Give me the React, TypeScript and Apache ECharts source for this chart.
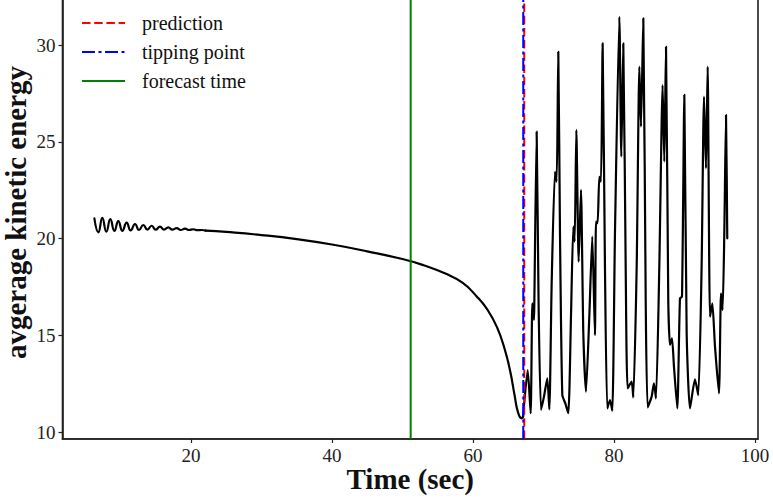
import React, { useEffect, useRef } from "react";
import * as echarts from "echarts";

// ---- data ----
const xTicks = [20, 40, 60, 80, 100];
const yTicks = [10, 15, 20, 25, 30];

// early damped oscillation
const timeOsc = [6.29, 6.86, 7.42, 7.99, 8.56, 9.13, 9.69, 10.26, 10.87, 11.44, 12.06, 12.62, 13.24, 13.81, 14.42, 14.99, 15.6, 16.17, 16.78, 17.35, 17.97, 18.53, 19.15, 19.72, 20.33, 20.9, 21.5, 22.1];
const energyOsc = [21.04, 20.32, 21.07, 20.35, 21.0, 20.39, 20.9, 20.4, 20.82, 20.42, 20.75, 20.44, 20.7, 20.46, 20.66, 20.46, 20.61, 20.46, 20.58, 20.46, 20.54, 20.44, 20.51, 20.44, 20.48, 20.43, 20.44, 20.41];

// slow decay towards the tipping point
const timeTrend = [22.1, 25.0, 30.0, 35.0, 40.0, 45.0, 50.0, 53.0, 56.0, 58.5, 60.5, 62.0, 63.4, 64.5, 65.3, 65.9, 66.4, 66.9, 67.1];
const energyTrend = [20.41, 20.34, 20.18, 19.97, 19.69, 19.34, 18.94, 18.62, 18.2, 17.72, 17.02, 16.35, 15.42, 14.28, 13.1, 11.9, 11.0, 10.71, 10.8];

// chaotic regime after the tipping point
const timeChaos = [67.1, 67.76, 68.18, 68.42, 68.65, 68.7, 69.03, 69.3, 69.65, 70.07, 70.54, 70.83, 71.16, 71.63, 71.87, 72.1, 72.34, 72.67, 73.1, 73.52, 73.9, 74.23, 74.42, 74.66, 74.99, 75.32, 75.65, 76.03, 76.5, 76.92, 77.3, 77.45, 77.68, 77.92, 78.16, 78.39, 78.72, 79.05, 79.43, 79.76, 80.14, 80.76, 81.04, 81.32, 81.66, 81.94, 82.5, 82.74, 83.22, 83.6, 83.83, 84.16, 84.5, 84.78, 85.34, 85.67, 85.96, 86.43, 86.9, 87.14, 87.38, 87.7, 87.94, 88.23, 88.51, 88.98, 89.36, 89.65, 89.98, 90.31, 90.78, 91.49, 91.96, 92.43, 92.77, 93.05, 93.29, 93.62, 93.95, 94.33, 94.89, 95.18, 95.41, 95.65, 95.89, 96.07];
const energyChaos = [10.8, 13.2, 10.97, 16.65, 15.79, 16.65, 25.52, 16.8, 11.14, 11.83, 12.77, 11.17, 17.68, 23.45, 22.94, 29.65, 20.27, 11.91, 11.48, 10.97, 15.96, 20.61, 19.84, 25.61, 18.8, 22.51, 15.1, 12.08, 15.96, 20.1, 15.01, 20.87, 20.8, 23.19, 22.94, 30.08, 18.54, 11.22, 11.65, 11.1, 20.27, 31.46, 24.23, 30.08, 18.54, 12.26, 12.6, 11.79, 18.54, 28.88, 25.78, 31.38, 16.82, 11.27, 11.83, 12.52, 11.74, 18.54, 27.93, 23.97, 29.91, 16.82, 14.5, 14.84, 13.38, 11.22, 16.91, 17.0, 27.42, 15.1, 11.22, 12.72, 11.91, 18.54, 27.33, 23.63, 28.88, 15.96, 16.65, 14.41, 12.0, 17.17, 16.3, 20.27, 26.38, 20.01];

const forecastTime = 51.16;
const tippingTime = 67.13;
const predictionTime = 67.27;

const X_MIN = 1.77;
const X_MAX = 100.43;
const Y_MIN = 9.64;
const Y_MAX = 32.43;

const FONT = '"Liberation Serif", "DejaVu Serif", serif';

const zip = (xs: number[], ys: number[]) => xs.map((x, i) => [x, ys[i]]);

export default function App() {
  const ref = useRef<HTMLDivElement>(null);

  useEffect(() => {
    if (!ref.current) return;
    const chart = echarts.init(ref.current, null, { renderer: "svg" });
    const vline = (t: number) => [
      [t, Y_MIN],
      [t, Y_MAX],
    ];
    const curve = (name: string, data: number[][], smooth: number) => ({
      type: "line",
      name,
      data,
      smooth,
      symbol: "none",
      lineStyle: { color: "#000", width: 2.2, join: "round", cap: "round" },
      z: 2,
    });
    chart.setOption({
      animation: false,
      backgroundColor: "#ffffff",
      grid: {
        left: 62.5,
        right: 15,
        top: -2,
        bottom: 60,
        outerBoundsMode: "none",
        containLabel: false,
        show: true,
        borderColor: "#222",
        borderWidth: 1.6,
        backgroundColor: "transparent",
      },
      legend: {
        orient: "vertical",
        left: 76,
        top: 7,
        itemWidth: 43,
        itemHeight: 14,
        itemGap: 7,
        data: ["prediction", "tipping point", "forecast time"],
        itemStyle: { opacity: 0 },
        textStyle: {
          fontFamily: FONT,
          fontSize: 20,
          color: "#111",
          lineHeight: 22,
          padding: [0, 0, 0, 12],
        },
      },
      xAxis: {
        type: "value",
        min: X_MIN,
        max: X_MAX,
        name: "Time (sec)",
        nameLocation: "middle",
        nameGap: 25,
        nameMoveOverlap: false,
        nameTextStyle: { fontFamily: FONT, fontSize: 29, fontWeight: "bold", color: "#111", lineHeight: 29 },
        axisLine: { show: true, lineStyle: { color: "#222", width: 1.6 } },
        axisTick: { show: true, length: 4, customValues: xTicks, lineStyle: { color: "#222", width: 1.2 } },
        axisLabel: { customValues: xTicks, fontFamily: FONT, fontSize: 19, lineHeight: 16, color: "#222", margin: 8 },
        splitLine: { show: false },
      },
      yAxis: {
        type: "value",
        min: Y_MIN,
        max: Y_MAX,
        name: "avgerage kinetic energy",
        nameLocation: "middle",
        nameRotate: 90,
        nameGap: 32,
        nameMoveOverlap: false,
        nameTextStyle: {
          fontFamily: FONT,
          fontSize: 29,
          fontWeight: "bold",
          color: "#111",
          lineHeight: 29,
          padding: [0, 0, 0, 12],
        },
        axisLine: { show: true, lineStyle: { color: "#222", width: 1.6 } },
        axisTick: { show: true, length: 4, customValues: yTicks, lineStyle: { color: "#222", width: 1.2 } },
        axisLabel: { customValues: yTicks, fontFamily: FONT, fontSize: 19, color: "#222", margin: 7 },
        splitLine: { show: false },
      },
      series: [
        curve("energy-osc", zip(timeOsc, energyOsc), 0.5),
        curve("energy-trend", zip(timeTrend, energyTrend), 0.5),
        curve("energy-chaos", zip(timeChaos, energyChaos), 0.2),
        {
          type: "line",
          name: "prediction",
          data: vline(predictionTime),
          symbol: "none",
          itemStyle: { color: "#ff0000", opacity: 0 },
          lineStyle: { color: "#ff0000", width: 2, type: [8.5, 3.7] },
          z: 3,
        },
        {
          type: "line",
          name: "tipping point",
          data: vline(tippingTime),
          symbol: "none",
          itemStyle: { color: "#0000ff", opacity: 0 },
          lineStyle: { color: "#0000ff", width: 2, type: [13, 3.5, 3, 3.5] },
          z: 4,
        },
        {
          type: "line",
          name: "forecast time",
          data: vline(forecastTime),
          symbol: "none",
          itemStyle: { color: "#008000", opacity: 0 },
          lineStyle: { color: "#008000", width: 2 },
          z: 3,
        },
      ],
    });
    return () => chart.dispose();
  }, []);

  return (
    <div
      ref={ref}
      style={{ position: "fixed", left: 0, top: 0, width: 773, height: 499, background: "#fff" }}
    />
  );
}
